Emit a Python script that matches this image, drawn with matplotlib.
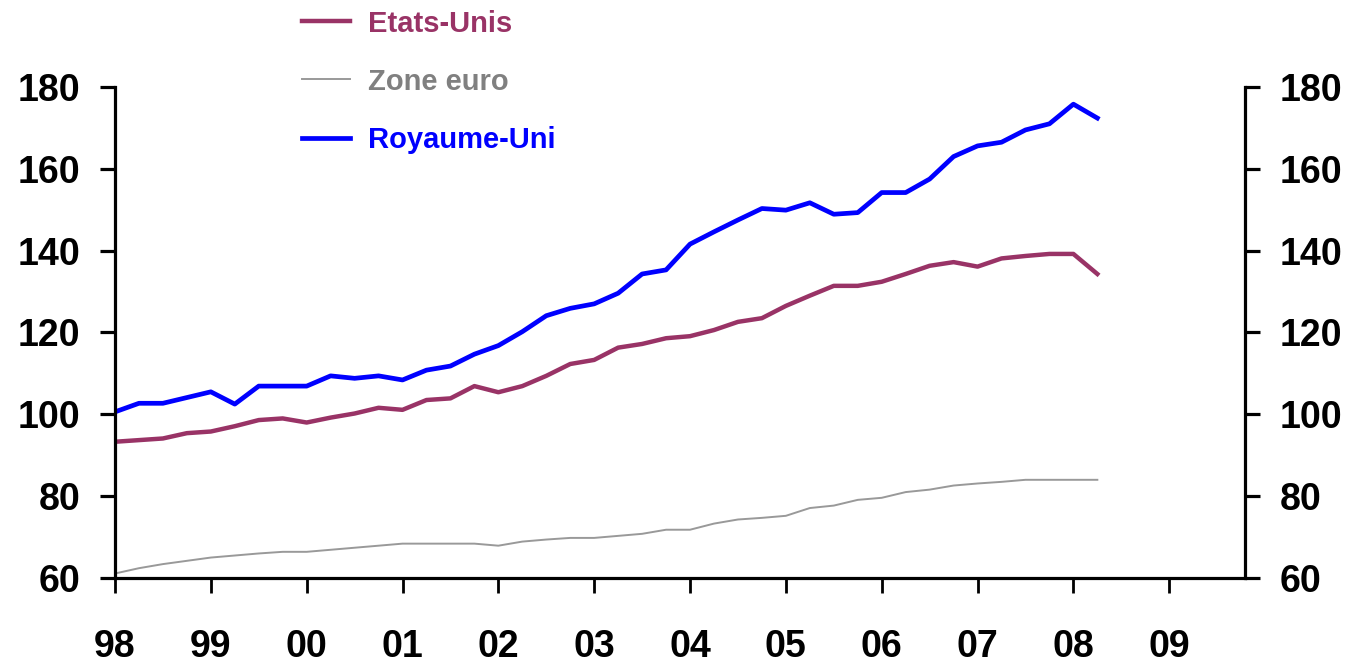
import numpy as np
import matplotlib.pyplot as plt

# ===============================
# Données trimestrielles (1998T1 - 2008T2)
# ===============================
etats_unis = [93.3, 93.7, 94.1, 95.4, 95.8, 97.1, 98.6, 99.0, 98.0, 99.2,
              100.2, 101.6, 101.1, 103.5, 103.9, 106.9, 105.4, 106.9, 109.4, 112.3,
              113.3, 116.3, 117.2, 118.6, 119.1, 120.6, 122.6, 123.5, 126.5, 129.0,
              131.4, 131.4, 132.4, 134.3, 136.3, 137.2, 136.1, 138.1, 138.7, 139.2,
              139.2, 134.3]
zone_euro = [61.1, 62.4, 63.4, 64.2, 65.0, 65.5, 66.0, 66.4, 66.4, 66.9,
             67.4, 67.9, 68.4, 68.4, 68.4, 68.4, 67.9, 68.9, 69.4, 69.8,
             69.8, 70.3, 70.8, 71.8, 71.8, 73.3, 74.3, 74.7, 75.2, 77.1,
             77.7, 79.1, 79.6, 81.0, 81.6, 82.6, 83.1, 83.5, 84.0, 84.0,
             84.0, 84.0]
royaume_uni = [100.6, 102.7, 102.7, 104.1, 105.5, 102.5, 106.9, 106.9, 106.9, 109.4,
               108.8, 109.4, 108.4, 110.8, 111.8, 114.7, 116.8, 120.2, 124.1, 125.9,
               127.0, 129.6, 134.3, 135.3, 141.6, 144.6, 147.5, 150.3, 149.9, 151.7,
               148.9, 149.3, 154.2, 154.2, 157.5, 163.0, 165.6, 166.5, 169.5, 171.0,
               175.8, 172.4]

annees = list(range(1998, 2010))
labels_annees = ["98", "99", "00", "01", "02", "03", "04", "05", "06", "07", "08", "09"]

t = 1998 + 0.25 * np.arange(len(etats_unis))

plt.rcParams['font.family'] = ['Liberation Sans', 'DejaVu Sans']
plt.rcParams['font.weight'] = 'bold'

fig = plt.figure(figsize=(13.56, 6.64), dpi=100)
ax = fig.add_axes([0.0848, 0.1295, 0.8333, 0.7395])

ax.plot(t, etats_unis, color="#993366", lw=3.2, label="Etats-Unis")
ax.plot(t, zone_euro, color="#999999", lw=1.4, label="Zone euro")
ax.plot(t, royaume_uni, color="#0000FF", lw=3.4, label="Royaume-Uni")

ax.set_xlim(1998, 2009.79)
ax.set_ylim(60, 180)
ax.set_yticks(range(60, 181, 20))
ax.set_xticks(annees)
ax.set_xticklabels(labels_annees)

for s in ["left", "right", "bottom"]:
    ax.spines[s].set_linewidth(2.3)
ax.spines["top"].set_visible(False)

ax.tick_params(axis="y", direction="out", length=11, width=2.3, labelsize=27,
               pad=14, right=True, labelright=True)
ax.tick_params(axis="x", direction="out", length=11, width=2.0, labelsize=27, pad=26)

leg = fig.legend(loc="upper left", bbox_to_anchor=(0.2035, 1.025), frameon=False,
                 fontsize=21, handlelength=1.65, labelspacing=1.03, handletextpad=0.62,
                 labelcolor=["#993366", "#808080", "#0000FF"])

fig.savefig("out.png", dpi=100)
